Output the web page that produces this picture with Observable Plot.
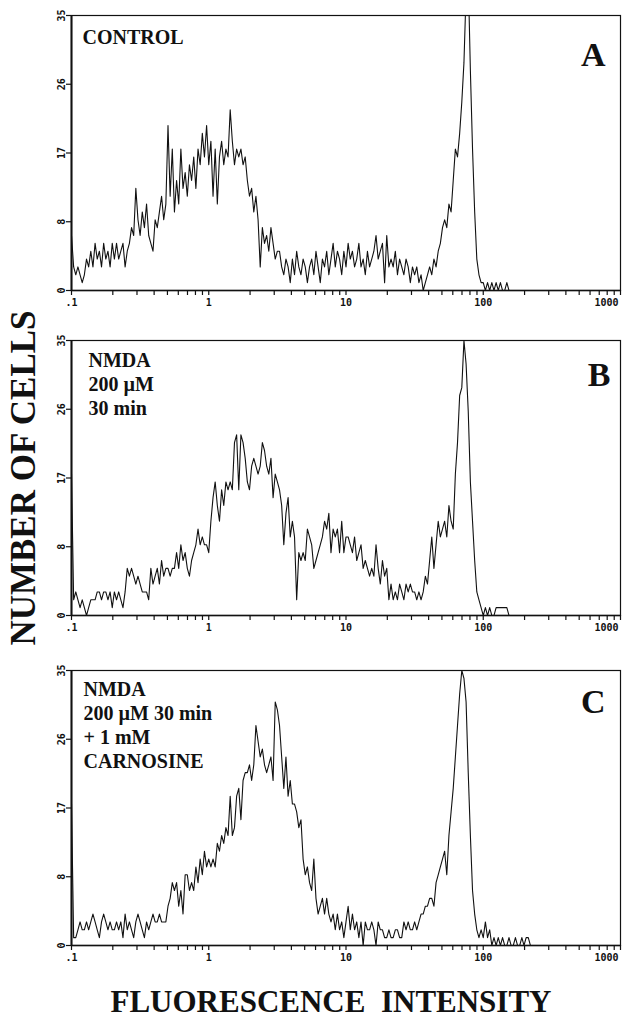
<!DOCTYPE html>
<html>
<head>
<meta charset="utf-8">
<script src="https://cdn.jsdelivr.net/npm/d3@7"></script>
<script src="https://cdn.jsdelivr.net/npm/@observablehq/plot@0.6"></script>
<style>
  body { margin: 0; background: #fff; }
  #fig { position: relative; width: 622px; height: 1022px; overflow: hidden; background: #fff; }
  .panel { position: absolute; left: 0; }
  .ytitle {
    position: absolute; left: 23px; top: 478px;
    transform: translate(-50%, -50%) rotate(-90deg);
    font: bold 35px "Liberation Serif", "DejaVu Serif", serif;
    line-height: 1; white-space: nowrap; color: #111;
  }
  .xtitle {
    position: absolute; left: 331px; top: 988px;
    transform: translateX(-50%);
    font: bold 31px "Liberation Serif", "DejaVu Serif", serif;
    line-height: 27px; height: 27px; white-space: pre; color: #111;
  }
</style>
</head>
<body>
<div id="fig"></div>
<script>
// ---------------- data ----------------
// Log-amplified histogram: channels start at 0.1, 64 channels per decade
const channelStart = 0.1;
const channelsPerDecade = 64;

// Number of cells per channel
const countsControl = [
  7,
  3,2,3,2,1,2,4,3,5,3,6,4,5,3,6,4,5,3,6,4,6,4,5,6,3,5,
  6,8,7,13,9,7,10,8,11,7,6,5,9,8,10,12,9,11,
  21,12,18,10,14,11,18,13,15,12,16,14,17,13,18,16,20,17,
  21,16,19,12,18,11,17,19,16,18,17,23,19,16,18,17,18,16,17,
  14,12,13,10,12,9,3,8,6,7,5,8,6,4,5,
  5,3,2,4,3,1,4,2,5,3,2,4,3,1,3,4,2,5,3,1,4,3,5,2,4,6,3,5,4,2,5,3,
  6,4,5,3,4,6,3,4,2,5,3,4,5,7,4,5,6,1,7,3,4,3,5,2,4,3,2,4,3,1,3,2,3,1,2,0,1,2,
  3,2,4,3,5,6,8,9,8,11,10,14,18,17,20,24,29,38,40,28,18,10,4,2,1,
  1,0,1,0,1,0,1,0,1,0,0,1,0,0,0
];
const countsNmda = [
  18,
  2,3,2,1,2,1,0,1,2,2,2,
  3,3,2,3,3,2,3,1,3,2,3,2,1,3,
  6,5,6,5,4,5,4,3,3,3,2,
  6,4,5,6,4,7,5,6,6,5,6,6,8,6,
  9,7,8,6,5,7,8,9,
  11,9,10,9,9,8,
  12,15,17,14,12,16,14,17,16,17,16,
  22,23,16,23,22,
  20,17,16,19,20,19,18,19,22,
  21,19,18,20,15,18,17,16,
  14,9,13,15,10,12,10,
  2,8,7,
  8,7,11,10,9,6,7,8,9,10,12,11,13,8,11,10,11,8,12,8,10,
  10,9,8,10,7,8,9,6,7,6,5,6,5,9,6,4,7,5,6,
  2,4,2,3,2,4,3,2,4,3,4,3,3,2,3,2,3,
  5,4,7,10,6,9,12,10,11,12,10,14,12,11,18,22,28,29,35,
  32,26,17,12,7,3,2,1,
  0,1,0,1,0,0,1,1,1,1,1,1,0,0
];
const countsCarnosine = [
  18,
  1,1,2,3,2,2,3,2,3,4,3,2,1,3,4,3,2,3,2,2,3,2,3,1,4,2,3,2,1,3,4,3,2,1,3,2,3,4,
  3,3,4,3,3,3,5,
  6,8,7,8,5,7,4,9,9,7,8,7,10,8,11,9,12,10,
  11,10,11,10,13,12,14,13,15,14,19,
  14,15,19,20,16,21,22,22,23,
  21,23,28,26,24,25,23,22,23,24,21,
  31,30,28,24,20,24,19,21,18,18,17,15,
  16,11,9,10,8,7,11,6,4,5,
  6,4,6,4,3,4,2,4,2,3,1,3,
  5,2,4,2,3,1,3,0,3,2,2,3,2,0,3,2,2,1,1,2,1,1,2,2,1,1,3,2,3,2,2,3,2,3,4,4,5,
  5,6,6,5,8,9,10,11,12,9,14,17,20,24,28,32,35,34,31,22,14,7,4,2,1,2,1,3,1,2,
  0,1,0,1,0,1,0,0,1,0,0,1,0,0,1,0,1,1,0,0
];

const panelLetters = ["A", "B", "C"];
const panelLabels = ["CONTROL", "NMDA\n200 µM\n30 min", "NMDA\n200 µM 30 min\n+ 1 mM\nCARNOSINE"];

const xMajorTicks = [0.1, 1, 10, 100, 1000];
const xMajorLabels = [".1", "1", "10", "100", "1000"];
const xMinorTicks = [0.2,0.3,0.4,0.5,0.6,0.7,0.8,0.9, 2,3,4,5,6,7,8,9, 20,30,40,50,60,70,80,90, 200,300,400,500,600,700,800,900];
const yTickValues = [0, 8.75, 17.5, 26.25, 35];
const yTickLabels = ["0", "8", "17", "26", "35"];

const yAxisTitle = "NUMBER OF CELLS";
const xAxisTitle = "FLUORESCENCE  INTENSITY";

// ---------------- layout ----------------
const panelLayout = [
  {top: 0,   labelDx: 11, labelDy: 10.8, lineHeight: 1.22, letterDx: -15, letterDy: 26},
  {top: 325, labelDx: 17, labelDy: 8.8,  lineHeight: 1.22, letterDx: -10, letterDy: 21},
  {top: 655, labelDx: 12, labelDy: 8.8,  lineHeight: 1.2,  letterDx: -15, letterDy: 18}
];
const seriesList = [countsControl, countsNmda, countsCarnosine];

const mono = "'DejaVu Sans Mono', monospace";
const serif = "'Liberation Serif', 'DejaVu Serif', serif";
const ink = "#111";

const fig = document.getElementById("fig");

seriesList.forEach((counts, p) => {
  const L = panelLayout[p];
  const data = counts.map((v, i) => ({x: channelStart * Math.pow(10, i / channelsPerDecade), y: v}));
  const allTicks = xMajorTicks.concat(xMinorTicks);
  const chart = Plot.plot({
    width: 622,
    height: 320,
    marginLeft: 71,
    marginRight: 2,
    marginTop: 15,
    marginBottom: 30,
    style: {background: "transparent", overflow: "visible"},
    x: {type: "log", domain: [0.1, 1000]},
    y: {domain: [0, 35]},
    marks: [
      Plot.frame({stroke: ink, strokeWidth: 1.2}),
      Plot.ruleX([0.1], {stroke: ink, strokeWidth: 2}),
      Plot.ruleY([0], {stroke: ink, strokeWidth: 1.5}),
      Plot.axisX({ticks: allTicks, tickSize: 5, tickFormat: () => "", label: null, stroke: ink, strokeWidth: 1.2}),
      Plot.axisY({ticks: yTickValues, tickSize: 5, tickFormat: () => "", label: null, stroke: ink, strokeWidth: 1.2}),
      Plot.text(xMajorTicks.slice(0, 4), {
        x: d => d, text: (d, i) => xMajorLabels[i],
        frameAnchor: "bottom", dy: 12, textAnchor: "middle", lineAnchor: "middle",
        fontFamily: mono, fontSize: 10, fontWeight: "bold", fill: ink
      }),
      Plot.text(xMajorTicks.slice(4), {
        x: d => d, text: () => xMajorLabels[4],
        frameAnchor: "bottom", dy: 12, dx: -2, textAnchor: "end", lineAnchor: "middle",
        fontFamily: mono, fontSize: 10, fontWeight: "bold", fill: ink
      }),
      Plot.text(yTickValues, {
        y: d => d, text: (d, i) => yTickLabels[i],
        frameAnchor: "left", dx: -10, rotate: -90, textAnchor: "middle", lineAnchor: "middle",
        fontFamily: mono, fontSize: 10, fontWeight: "bold", fill: ink
      }),
      Plot.line(data, {x: "x", y: "y", stroke: ink, strokeWidth: 1.1, clip: true}),
      Plot.text([panelLabels[p]], {
        text: d => d, frameAnchor: "top-left", dx: L.labelDx, dy: L.labelDy,
        textAnchor: "start", lineAnchor: "top", lineHeight: L.lineHeight,
        fontFamily: serif, fontSize: 20, fontWeight: "bold", fill: ink
      }),
      Plot.text([panelLetters[p]], {
        text: d => d, frameAnchor: "top-right", dx: L.letterDx, dy: L.letterDy,
        textAnchor: "end", lineAnchor: "top",
        fontFamily: serif, fontSize: 34, fontWeight: "bold", fill: ink
      })
    ]
  });
  chart.classList.add("panel");
  chart.style.top = L.top + "px";
  chart.style.position = "absolute";
  fig.appendChild(chart);
});

const yt = document.createElement("div");
yt.className = "ytitle";
yt.textContent = yAxisTitle;
fig.appendChild(yt);

const xt = document.createElement("div");
xt.className = "xtitle";
xt.textContent = xAxisTitle;
fig.appendChild(xt);
</script>
</body>
</html>
